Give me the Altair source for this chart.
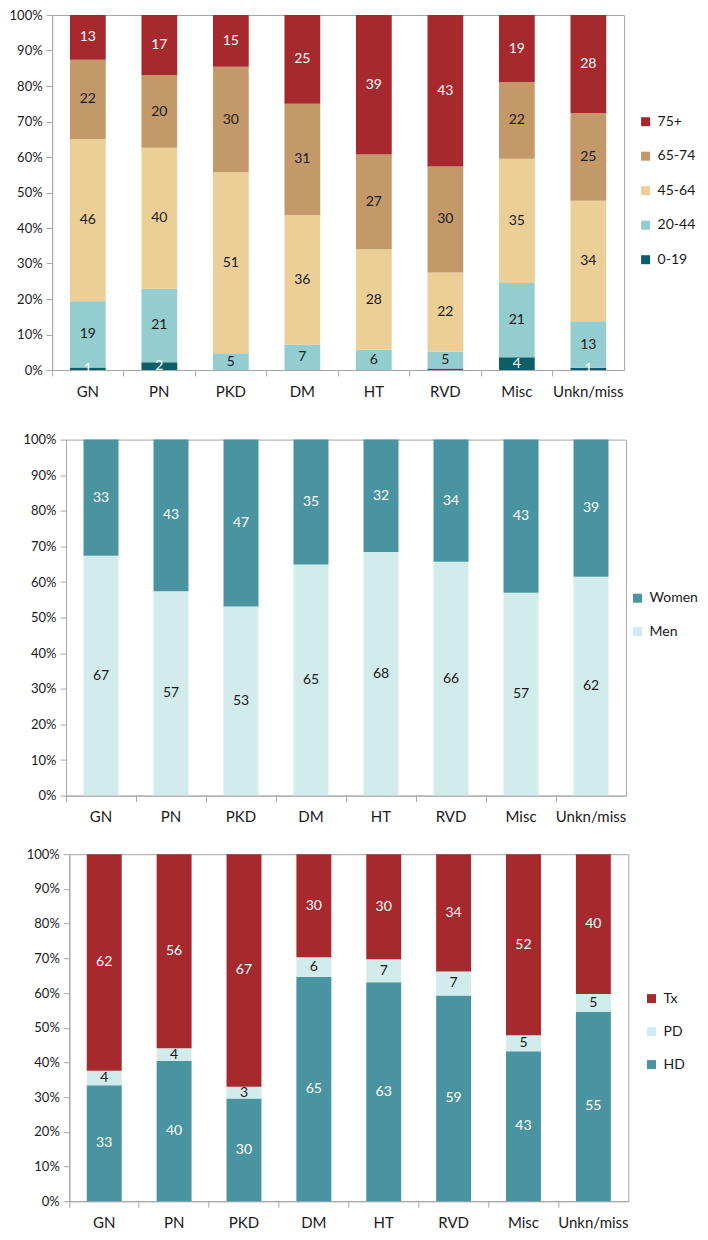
import altair as alt
import pandas as pd

FONT = "Lato"
cats = ["GN", "PN", "PKD", "DM", "HT", "RVD", "Misc", "Unkn/miss"]

# Panel 1: age groups (%), bottom to top
age_groups = ["0-19", "20-44", "45-64", "65-74", "75+"]
age_0_19 = [0.7, 2.2, 0.0, 0.0, 0.0, 0.4, 3.6, 0.6]
age_20_44 = [18.7, 20.7, 4.7, 7.2, 5.7, 4.8, 20.9, 13.1]
age_45_64 = [45.7, 39.7, 51.0, 36.4, 28.3, 22.3, 35.0, 34.0]
age_65_74 = [22.3, 20.4, 29.7, 31.4, 26.7, 29.8, 21.6, 24.7]
age_75p = [12.6, 17.0, 14.6, 25.0, 39.3, 42.7, 18.9, 27.6]

# Panel 2: sex (%), bottom to top
sex_groups = ["Men", "Women"]
men = [67.4, 57.4, 53.1, 64.9, 68.4, 65.7, 57.0, 61.5]
women = [32.6, 42.6, 46.9, 35.1, 31.6, 34.3, 43.0, 38.5]

# Panel 3: modality (%), bottom to top
rrt_groups = ["HD", "PD", "Tx"]
hd = [33.4, 40.4, 29.6, 64.7, 63.1, 59.3, 43.2, 54.6]
pdv = [4.2, 3.7, 3.4, 5.6, 6.6, 6.9, 4.6, 5.1]
tx = [62.4, 55.9, 67.0, 29.7, 30.3, 33.8, 52.2, 40.3]

y_ticks = [0.0, 0.1, 0.2, 0.3, 0.4, 0.5, 0.6, 0.7, 0.8, 0.9, 1.0]

RED = "#A5292D"
TAN = "#C4996A"
WHEAT = "#EBCF96"
LTEAL = "#93CDD0"
DTEAL = "#0E5E68"
MTEAL = "#4A94A1"
PALE = "#D2ECEC"
GREY = "#A6A6A6"
INK = "#1a1a1a"


def long_table(groups, series):
    rows = []
    for o, (g, vals) in enumerate(zip(groups, series)):
        for c, v in zip(cats, vals):
            rows.append({"cat": c, "grp": g, "ord": o, "v": v})
    return pd.DataFrame(rows)


def panel(df, legend_order, colors, white_groups, w, h, lx, ly, lpad, rowpad,
          x_min_extent=None):
    base = alt.Chart(df).transform_stack(
        stack="v", groupby=["cat"], as_=["y0", "y1"],
        sort=[alt.SortField("ord", order="ascending")], offset="normalize"
    ).transform_calculate(mid="(datum.y0 + datum.y1) / 2")

    xaxis = dict(labelAngle=0, bandPosition=0, tickSize=6, labelPadding=8,
                 domainColor=GREY, tickColor=GREY, labelFontSize=15,
                 labelFont=FONT, labelColor=INK, grid=False, title=None,
                 labelOverlap=False)
    if x_min_extent is not None:
        xaxis.update(minExtent=x_min_extent)
    yaxis = alt.Axis(format="%", values=y_ticks, tickSize=6,
                     labelPadding=4, domainColor=GREY, tickColor=GREY,
                     labelFontSize=13, labelFont=FONT, labelColor=INK, grid=False,
                     title=None, labelOverlap=False)
    yscale = alt.Scale(domain=[0, 1])

    x = alt.X("cat:N", sort=cats, scale=alt.Scale(paddingInner=0, paddingOuter=0),
              axis=alt.Axis(**xaxis))
    bars = base.mark_bar(width=alt.RelativeBandSize(0.5)).encode(
        x=x,
        y=alt.Y("y0:Q", scale=yscale, axis=yaxis),
        y2="y1:Q",
        color=alt.Color("grp:N", scale=alt.Scale(domain=legend_order, range=colors),
                        legend=alt.Legend(orient="none", legendX=lx, legendY=ly, title=None,
                                          symbolType="square", symbolSize=81,
                                          symbolStrokeWidth=0, labelFontSize=14,
                                          labelFont=FONT, labelColor=INK,
                                          rowPadding=rowpad, labelOffset=5,
                                          padding=lpad)),
    )
    text = base.transform_filter("datum.v >= 0.5").mark_text(
        fontSize=14, font=FONT, baseline="middle"
    ).encode(
        x=x,
        y=alt.Y("mid:Q", scale=yscale, axis=yaxis),
        text=alt.Text("v:Q", format=".0f"),
        color=alt.condition(alt.FieldOneOfPredicate(field="grp", oneOf=white_groups),
                            alt.value("white"), alt.value(INK)),
    )
    return alt.layer(bars, text).properties(width=w, height=h)


p1 = panel(long_table(age_groups, [age_0_19, age_20_44, age_45_64, age_65_74, age_75p]),
           ["75+", "65-74", "45-64", "20-44", "0-19"],
           [RED, TAN, WHEAT, LTEAL, DTEAL], ["75+", "0-19"],
           572, 355, 567.3, 80.5, 19.2, 20.5, x_min_extent=39.7)
p2 = panel(long_table(sex_groups, [men, women]),
           ["Women", "Men"], [MTEAL, PALE], ["Women"],
           560, 356, 561.5, 148.6, 3, 19.5)
p3 = panel(long_table(rrt_groups, [hd, pdv, tx]),
           ["Tx", "PD", "HD"], [RED, PALE, MTEAL], ["Tx", "HD"],
           559, 347, 561.9, 124.1, 13.3, 19)

chart = alt.concat(p1, p2, p3, columns=1, align="each", center=True, spacing=21.6).resolve_scale(
    color="independent", x="independent", y="independent"
).resolve_legend(color="independent").properties(
    padding={"left": 0, "top": 0, "right": -18, "bottom": 0}
).configure_view(stroke=GREY, strokeWidth=1)

chart.save("out.html", embed_options={"renderer": "svg", "actions": False})
